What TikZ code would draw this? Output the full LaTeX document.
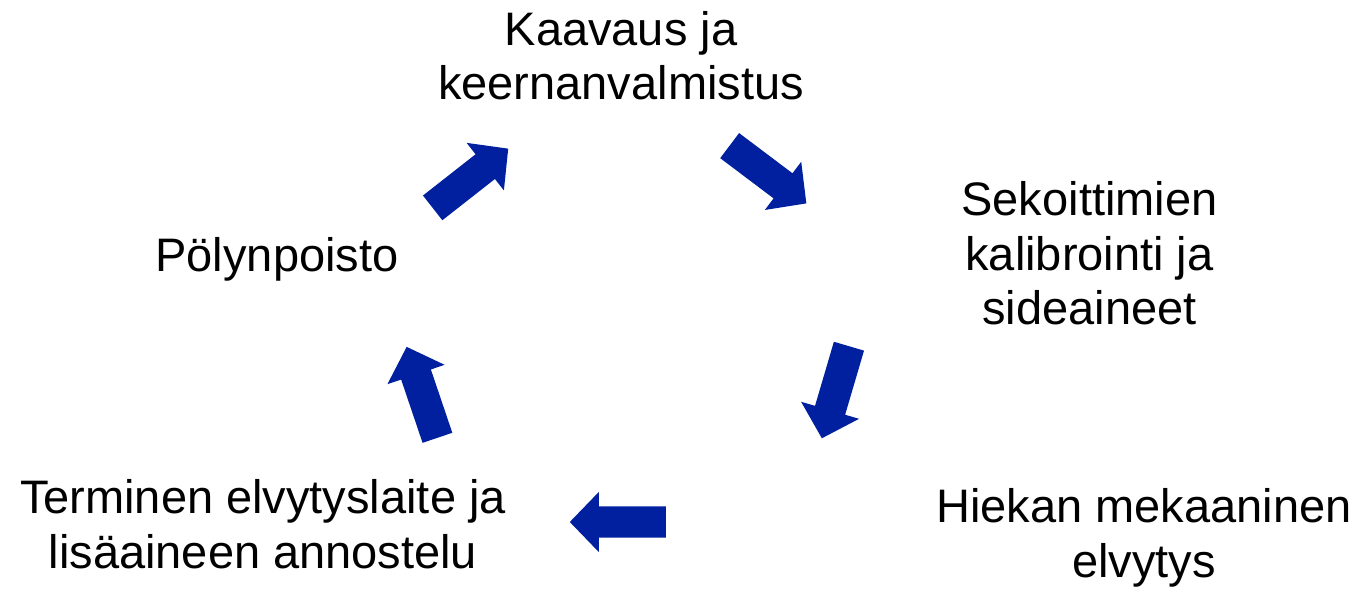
\documentclass[tikz,border=0pt]{standalone}
\usepackage{fontspec}
\setmainfont{Liberation Sans}
\usetikzlibrary{shapes.arrows}
\definecolor{arrowblue}{RGB}{0,32,159}
\tikzset{
  lbl/.style={align=center, inner sep=0pt, anchor=base, font=\fontsize{47}{54.5}\selectfont},
  blockarrow/.style={single arrow, fill=arrowblue, draw=none, inner xsep=0pt, inner ysep=15.5pt,
    minimum height=96pt, single arrow head extend=14.5pt, single arrow tip angle=92, anchor=tail}
}
\begin{document}
\begin{tikzpicture}[x=1pt,y=1pt]
\useasboundingbox (0,0) rectangle (1360,595);
\node[lbl] (t1) at (621,495) {Kaavaus ja\\keernanvalmistus};
\node[lbl] (t2) at (1089.5,270) {Sekoittimien\\kalibrointi ja\\sideaineet};
\node[lbl] (t3) at (1144,18) {Hiekan mekaaninen\\elvytys};
\node[lbl] (t4) at (263,27) {Terminen elvytyslaite ja\\lisäaineen annostelu};
\node[lbl] (t5) at (277,323) {Pölynpoisto};
\node[blockarrow, rotate=38.1] (a1) at (432.5,387) {};
\node[blockarrow, rotate=-37] (a2) at (729.5,449.5) {};
\node[blockarrow, rotate=-106.4] (a3) at (849,249) {};
\node[blockarrow, rotate=180] (a4) at (666,73) {};
\node[blockarrow, rotate=108.7] (a5) at (437.5,157) {};
\end{tikzpicture}
\end{document}
